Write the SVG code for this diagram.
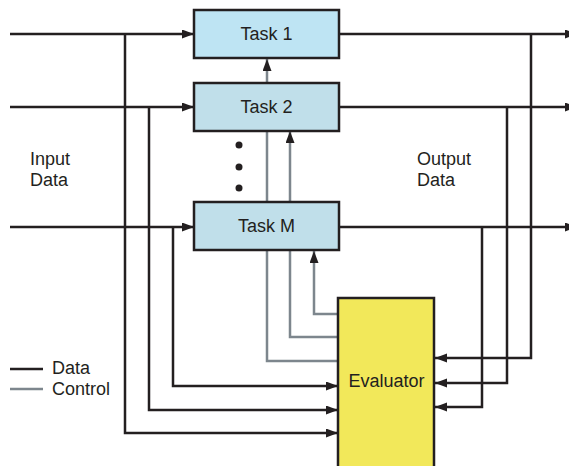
<svg xmlns="http://www.w3.org/2000/svg" width="569" height="466" viewBox="0 0 569 466">
  <defs>
    <marker id="arrow" markerUnits="userSpaceOnUse" markerWidth="12" markerHeight="10" refX="12" refY="4.5" orient="auto">
      <path d="M0,0 L12,4.5 L0,9 z" fill="#231f20"/>
    </marker>
    <style>
      .data { fill: none; stroke: #231f20; stroke-width: 2.5; }
      .ctrl { fill: none; stroke: #7d868d; stroke-width: 2.5; }
      .task { stroke: #231f20; stroke-width: 2.5; }
      .eval { fill: #f2e85a; stroke: #231f20; stroke-width: 2.5; }
      text { font-family: "Liberation Sans", Arial, sans-serif; font-size: 18px; fill: #231f20; }
      .mid { text-anchor: middle; }
    </style>
  </defs>
  <rect width="569" height="466" fill="#ffffff"/>

  <g id="connectors">
    <!-- input data to tasks -->
    <path class="data" d="M10,34 H194" marker-end="url(#arrow)"/>
    <path class="data" d="M10,107 H194" marker-end="url(#arrow)"/>
    <path class="data" d="M10,227 H194" marker-end="url(#arrow)"/>
    <!-- input data to evaluator -->
    <path class="data" d="M125,34 V433 H338" marker-end="url(#arrow)"/>
    <path class="data" d="M149,107 V410 H338" marker-end="url(#arrow)"/>
    <path class="data" d="M173,227 V386 H338" marker-end="url(#arrow)"/>
    <!-- output data (arrowheads run off the right edge) -->
    <path class="data" d="M339,34 H577" marker-end="url(#arrow)"/>
    <path class="data" d="M339,107 H577" marker-end="url(#arrow)"/>
    <path class="data" d="M339,227 H577" marker-end="url(#arrow)"/>
    <!-- output data to evaluator -->
    <path class="data" d="M531,34 V358 H435" marker-end="url(#arrow)"/>
    <path class="data" d="M507,107 V383 H435" marker-end="url(#arrow)"/>
    <path class="data" d="M482,227 V407 H435" marker-end="url(#arrow)"/>
    <!-- control from evaluator -->
    <path class="ctrl" d="M338,314 H314 V251" marker-end="url(#arrow)"/>
    <path class="ctrl" d="M338,337 H290 V131" marker-end="url(#arrow)"/>
    <path class="ctrl" d="M338,361 H267 V59" marker-end="url(#arrow)"/>
  </g>

  <g id="task1">
    <rect class="task" x="194" y="10" width="145" height="48" fill="#bee4f3"/>
    <text class="mid" x="266.5" y="40">Task 1</text>
  </g>
  <g id="task2">
    <rect class="task" x="194" y="83" width="145" height="48" fill="#c0dfea"/>
    <text class="mid" x="266.5" y="113">Task 2</text>
  </g>
  <g id="ellipsis">
    <circle cx="239" cy="145" r="3.5" fill="#231f20"/>
    <circle cx="239" cy="167" r="3.5" fill="#231f20"/>
    <circle cx="239" cy="188" r="3.5" fill="#231f20"/>
  </g>
  <g id="taskM">
    <rect class="task" x="194" y="202" width="145" height="48" fill="#c0dfea"/>
    <text class="mid" x="266.5" y="232">Task M</text>
  </g>
  <g id="evaluator">
    <rect class="eval" x="338" y="298" width="96" height="180"/>
    <text class="mid" x="386.5" y="387">Evaluator</text>
  </g>

  <g id="labels">
    <text x="30" y="165">Input</text>
    <text x="30" y="186">Data</text>
    <text x="417" y="165">Output</text>
    <text x="417" y="186">Data</text>
  </g>

  <g id="legend">
    <path class="data" d="M10,369 H43"/>
    <path class="ctrl" d="M10,389 H43"/>
    <text x="52" y="374">Data</text>
    <text x="52" y="395">Control</text>
  </g>
</svg>
